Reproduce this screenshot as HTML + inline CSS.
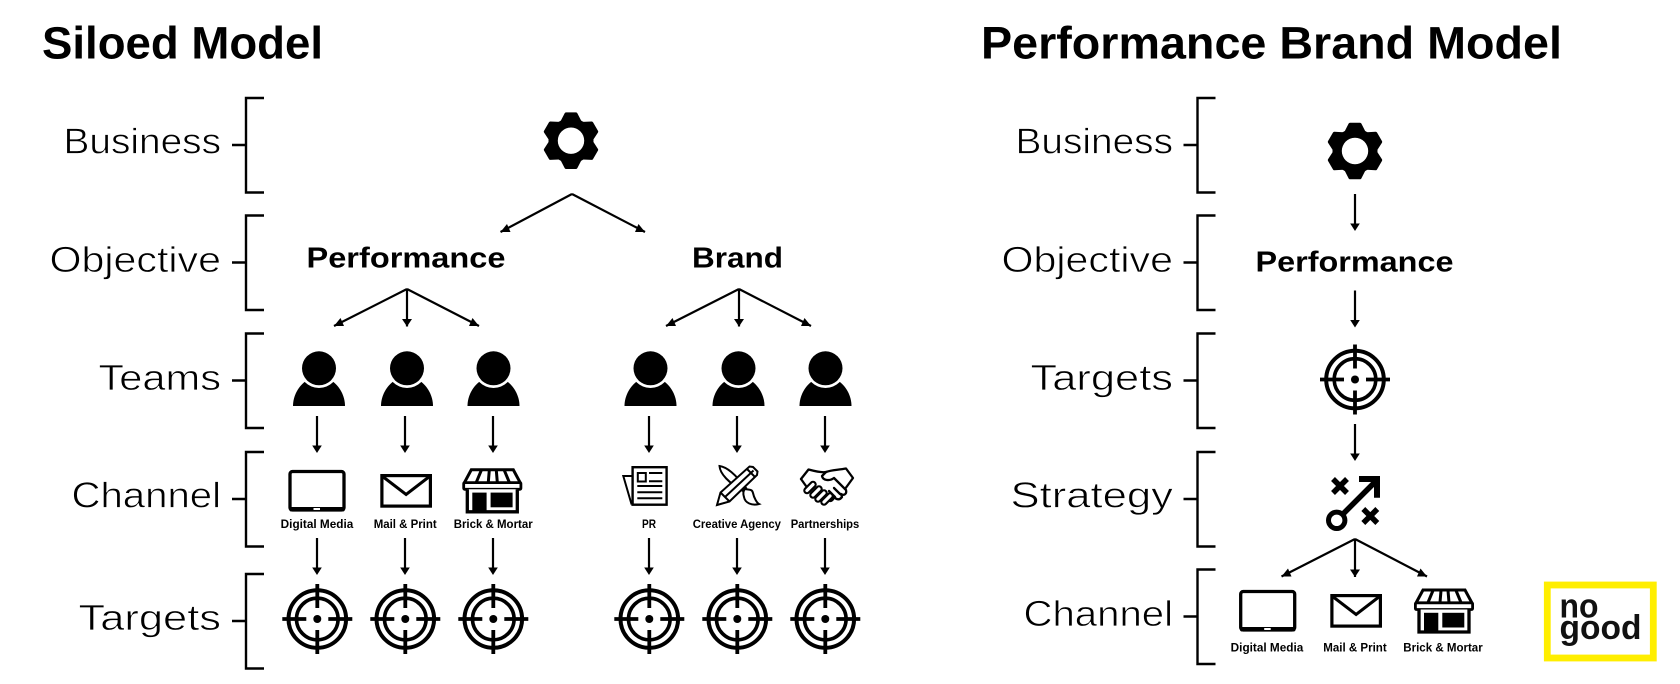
<!DOCTYPE html>
<html><head><meta charset="utf-8"><style>
html,body{margin:0;padding:0;background:#fff}
svg{display:block}
text{font-family:"Liberation Sans",sans-serif;fill:#000}
.t{font-weight:700;font-size:45px}
.l{font-size:36px;stroke:#fff;stroke-width:.7}
.h{font-weight:700;font-size:29px}
.s{font-weight:700;font-size:11.5px}
.g{font-weight:700;font-size:34px;fill:#111}
</style></head><body>
<svg width="1680" height="684" viewBox="0 0 1680 684" xmlns="http://www.w3.org/2000/svg">
<defs>
<marker id="mr" markerUnits="userSpaceOnUse" markerWidth="12" markerHeight="12" refX="10" refY="9" orient="0"><path d="M0 9L10 9L3.500 1Z" fill="#000"/></marker>
<marker id="ml" markerUnits="userSpaceOnUse" markerWidth="12" markerHeight="12" refX="0" refY="9" orient="0"><path d="M10 9L0 9L6.500 1Z" fill="#000"/></marker>
<marker id="md" markerUnits="userSpaceOnUse" markerWidth="12" markerHeight="12" refX="5" refY="9" orient="0"><path d="M0 1.500H10L5 9Z" fill="#000"/></marker>
<g id="a"><path d="M0 0V30" stroke="#000" stroke-width="2.200" fill="none"/><path d="M-4.800 29.500L4.800 29.500L0 37Z" fill="#000"/></g>
<g id="b" fill="none" stroke="#000" stroke-width="2.400"><path d="M18 0H0V94.500H18M-14 47H0"/></g>
<path id="tooth" d="M-9 -19L-5 -26.800H5L9 -19Z" stroke="#000" stroke-width="3" stroke-linejoin="round"/>
<g id="gear"><circle r="22.500"/>
<use href="#tooth"/><use href="#tooth" transform="rotate(60)"/><use href="#tooth" transform="rotate(120)"/><use href="#tooth" transform="rotate(180)"/><use href="#tooth" transform="rotate(240)"/><use href="#tooth" transform="rotate(300)"/>
<circle r="13.200" fill="#fff"/></g>
<g id="p"><path d="M-26 37.700C-26 27-20 17-12 12L12 12C20 17 26 27 26 37.700Z"/><circle r="19.700" fill="#fff"/><circle r="17"/></g>
<g id="tg" fill="none" stroke="#000"><circle r="28.800" stroke-width="4"/><circle r="20.800" stroke-width="3.600"/><path stroke-width="3.800" d="M-35 0H-11M11 0H35M0 -35V-11M0 11V35"/><circle r="4" fill="#000" stroke="none"/></g>
<g id="tab"><rect x="1.700" y="1.500" width="54" height="38.500" rx="2.500" fill="#fff" stroke="#000" stroke-width="3.300"/><rect x="1" y="37" width="55.500" height="4.500" rx="2"/><rect x="25.200" y="38" width="6.500" height="2" fill="#fff"/></g>
<g id="env" fill="#fff" stroke="#000"><rect x="1.600" y="1.600" width="48.500" height="30.500" stroke-width="3.200"/><path d="M3 3L25.800 20.500L48.500 3" fill="none" stroke-width="3"/></g>
<g id="st"><path d="M2 14.500L9 1.500H51L58 14.500" fill="#fff" stroke="#000" stroke-width="3"/><path d="M14 14L19 2M26 14L27 2M35 14L34 2M47 14L42 2" stroke="#000" stroke-width="3" fill="none"/><rect x="1.400" y="14.300" width="57.200" height="6.700" rx="1" fill="#fff" stroke="#000" stroke-width="2.800"/><path d="M5 21V43.500H55V21" fill="#fff" stroke="#000" stroke-width="3.300"/><rect x="10" y="24.300" width="14.300" height="20.700"/><rect x="28.300" y="24.300" width="22" height="14.700"/></g>
<g id="f"><path d="M-3 3L3 -3" stroke="#000" stroke-width="7.500" stroke-linecap="round"/><path d="M-3 3L3 -3" stroke="#fff" stroke-width="3.200" stroke-linecap="round"/></g>
</defs>

<!-- titles -->
<text class="t" x="42" y="58.500" textLength="281" lengthAdjust="spacingAndGlyphs">Siloed Model</text>
<text class="t" x="981" y="58.500" textLength="581" lengthAdjust="spacingAndGlyphs">Performance Brand Model</text>

<!-- brackets -->
<use href="#b" x="246" y="98"/><use href="#b" x="246" y="215.500"/><use href="#b" x="246" y="333.500"/><use href="#b" x="246" y="452"/><use href="#b" x="246" y="574"/>
<use href="#b" x="1197.500" y="98"/><use href="#b" x="1197.500" y="215.500"/><use href="#b" x="1197.500" y="333.500"/><use href="#b" x="1197.500" y="452"/><use href="#b" x="1197.500" y="569.500"/>

<text class="l" x="63.500" y="153.500" textLength="157.500" lengthAdjust="spacingAndGlyphs">Business</text>
<text class="l" x="49.500" y="272" textLength="171.500" lengthAdjust="spacingAndGlyphs">Objective</text>
<text class="l" x="98.500" y="390" textLength="122.500" lengthAdjust="spacingAndGlyphs">Teams</text>
<text class="l" x="71.500" y="507.500" textLength="149.500" lengthAdjust="spacingAndGlyphs">Channel</text>
<text class="l" x="78.500" y="630" textLength="142.500" lengthAdjust="spacingAndGlyphs">Targets</text>

<text class="l" x="1015.500" y="153.500" textLength="157.500" lengthAdjust="spacingAndGlyphs">Business</text>
<text class="l" x="1001.500" y="272" textLength="171.500" lengthAdjust="spacingAndGlyphs">Objective</text>
<text class="l" x="1030.500" y="390" textLength="142.500" lengthAdjust="spacingAndGlyphs">Targets</text>
<text class="l" x="1010.500" y="507.500" textLength="162.500" lengthAdjust="spacingAndGlyphs">Strategy</text>
<text class="l" x="1023.500" y="626" textLength="149.500" lengthAdjust="spacingAndGlyphs">Channel</text>

<!-- left tree -->
<use href="#gear" x="571" y="140.700"/>
<g fill="none" stroke="#000" stroke-width="2.200">
<path d="M572 194L500.500 232" marker-end="url(#ml)"/><path d="M572 194L645 232" marker-end="url(#mr)"/>
<path d="M407 289L334 326" marker-end="url(#ml)"/><path d="M407 289V326.500" marker-end="url(#md)"/><path d="M407 289L479 326" marker-end="url(#mr)"/>
<path d="M739 289L666 326" marker-end="url(#ml)"/><path d="M739 289V326.500" marker-end="url(#md)"/><path d="M739 289L811 326" marker-end="url(#mr)"/>
<path d="M1355 539L1281.500 576.500" marker-end="url(#ml)"/><path d="M1355 539V577" marker-end="url(#md)"/><path d="M1355 539L1427 576.500" marker-end="url(#mr)"/>
</g>
<text class="h" x="306.500" y="267.500" textLength="199" lengthAdjust="spacingAndGlyphs">Performance</text>
<text class="h" x="692" y="267.500" textLength="91" lengthAdjust="spacingAndGlyphs">Brand</text>

<!-- persons -->
<use href="#p" x="319" y="368.300"/><use href="#p" x="407" y="368.300"/><use href="#p" x="493.500" y="368.300"/>
<use href="#p" x="650.500" y="368.300"/><use href="#p" x="738.500" y="368.300"/><use href="#p" x="825.500" y="368.300"/>

<!-- arrows -->
<use href="#a" x="317" y="416"/><use href="#a" x="405" y="416"/><use href="#a" x="493" y="416"/>
<use href="#a" x="649" y="416"/><use href="#a" x="737" y="416"/><use href="#a" x="825" y="416"/>
<use href="#a" x="317" y="538"/><use href="#a" x="405" y="538"/><use href="#a" x="493" y="538"/>
<use href="#a" x="649" y="538"/><use href="#a" x="737" y="538"/><use href="#a" x="825" y="538"/>

<!-- channel icons -->
<use href="#tab" x="288.300" y="470"/>
<use href="#env" x="380.300" y="474"/>
<use href="#st" x="462.300" y="468.300"/>

<!-- newspaper -->
<g transform="translate(622.300 466)" fill="none" stroke="#000">
<path d="M9.300 10H1L9.300 38.500" stroke-width="2"/>
<rect x="10.300" y="1.200" width="34" height="37.500" stroke-width="2.400" fill="#fff"/>
<rect x="15.500" y="7" width="8" height="8.500" stroke-width="2"/>
<path d="M26.700 7H40M26.700 15.300H40M15 20H40M15 26.300H40M15 32.300H40" stroke-width="2"/>
</g>
<!-- brush + pencil -->
<g fill="none" stroke="#000" stroke-width="2">
<path d="M719.500 466C727 467 735 474 746 488L743 491C729 483 720 474 719.500 466Z" fill="#fff"/>
<path d="M745 489C750 490 752 489 753 493C754 498 757 503 759 504C752 506 745 503 744 497C743 494 743 491 745 489Z" fill="#fff"/>
<path d="M717 505L720.500 492.500L749.500 466.500L753 467L757.500 471.500L757 475L729.500 501.500Z" fill="#fff"/>
<path d="M720.500 492.500L729.500 501.500M725 497L753.500 470.500M747 469L755 477"/>
</g>
<!-- handshake -->
<g fill="none" stroke="#000" stroke-width="2.300" stroke-linejoin="round" stroke-linecap="round">
<path d="M801 479L808.500 469.500C814 471 821 473 826 472C831 470 838 470 846 468.500L853 478L845 489"/>
<path d="M826 472L822 476C823 481 830 481 834 478L846 490C847 494 844 496 841 494L842 497C839 501 836 499 834 497C833 501 830 502 827 500"/>
<path d="M801 479L806 486"/>
<path d="M834 488L840 494M829 491L835 497"/>
</g>
<use href="#f" x="810" y="487.500"/><use href="#f" x="816" y="492"/><use href="#f" x="821" y="496"/><use href="#f" x="827" y="499"/>

<!-- labels small -->
<text class="s" x="280.700" y="528" textLength="72.600" lengthAdjust="spacingAndGlyphs">Digital Media</text>
<text class="s" x="373.700" y="528" textLength="63" lengthAdjust="spacingAndGlyphs">Mail &amp; Print</text>
<text class="s" x="453.700" y="528" textLength="79" lengthAdjust="spacingAndGlyphs">Brick &amp; Mortar</text>
<text class="s" x="642" y="528" textLength="14" lengthAdjust="spacingAndGlyphs">PR</text>
<text class="s" x="692.700" y="528" textLength="88.300" lengthAdjust="spacingAndGlyphs">Creative Agency</text>
<text class="s" x="790.700" y="528" textLength="68.600" lengthAdjust="spacingAndGlyphs">Partnerships</text>

<!-- targets -->
<use href="#tg" x="317.300" y="619"/><use href="#tg" x="405.300" y="619"/><use href="#tg" x="493.300" y="619"/>
<use href="#tg" x="649.300" y="619"/><use href="#tg" x="737.300" y="619"/><use href="#tg" x="825.300" y="619"/>

<!-- right column -->
<use href="#gear" x="1355" y="151"/>
<use href="#a" x="1355" y="194"/>
<text class="h" x="1255.500" y="271.500" textLength="198" lengthAdjust="spacingAndGlyphs">Performance</text>
<use href="#a" x="1355" y="290.500"/>
<use href="#tg" x="1355" y="379.500"/>
<use href="#a" x="1355" y="424"/>
<g transform="translate(1326 476)" fill="none" stroke="#000">
<circle cx="10.700" cy="44.300" r="8.200" stroke-width="5"/>
<path d="M16.500 38.500L50 5" stroke-width="5.500"/>
<path d="M33 3H51V21.700" stroke-width="6"/>
<path d="M7 3L21 17M21 3L7 17M37.300 33L51.300 47M51.300 33L37.300 47" stroke-width="5.500"/>
</g>
<use href="#tab" x="1239" y="590"/>
<use href="#env" x="1330.300" y="594"/>
<use href="#st" x="1414" y="588.500"/>
<text class="s" x="1230.700" y="651.700" textLength="72.600" lengthAdjust="spacingAndGlyphs">Digital Media</text>
<text class="s" x="1323.300" y="651.700" textLength="63.400" lengthAdjust="spacingAndGlyphs">Mail &amp; Print</text>
<text class="s" x="1403.300" y="651.700" textLength="79.400" lengthAdjust="spacingAndGlyphs">Brick &amp; Mortar</text>

<!-- logo -->
<rect x="1547.300" y="585" width="106" height="73" fill="#fff" stroke="#ffee00" stroke-width="6.800"/>
<text class="g" x="1559.500" y="617.700" textLength="39" lengthAdjust="spacingAndGlyphs">no</text>
<text class="g" x="1559.500" y="639" textLength="82" lengthAdjust="spacingAndGlyphs">good</text>
</svg>
</body></html>
